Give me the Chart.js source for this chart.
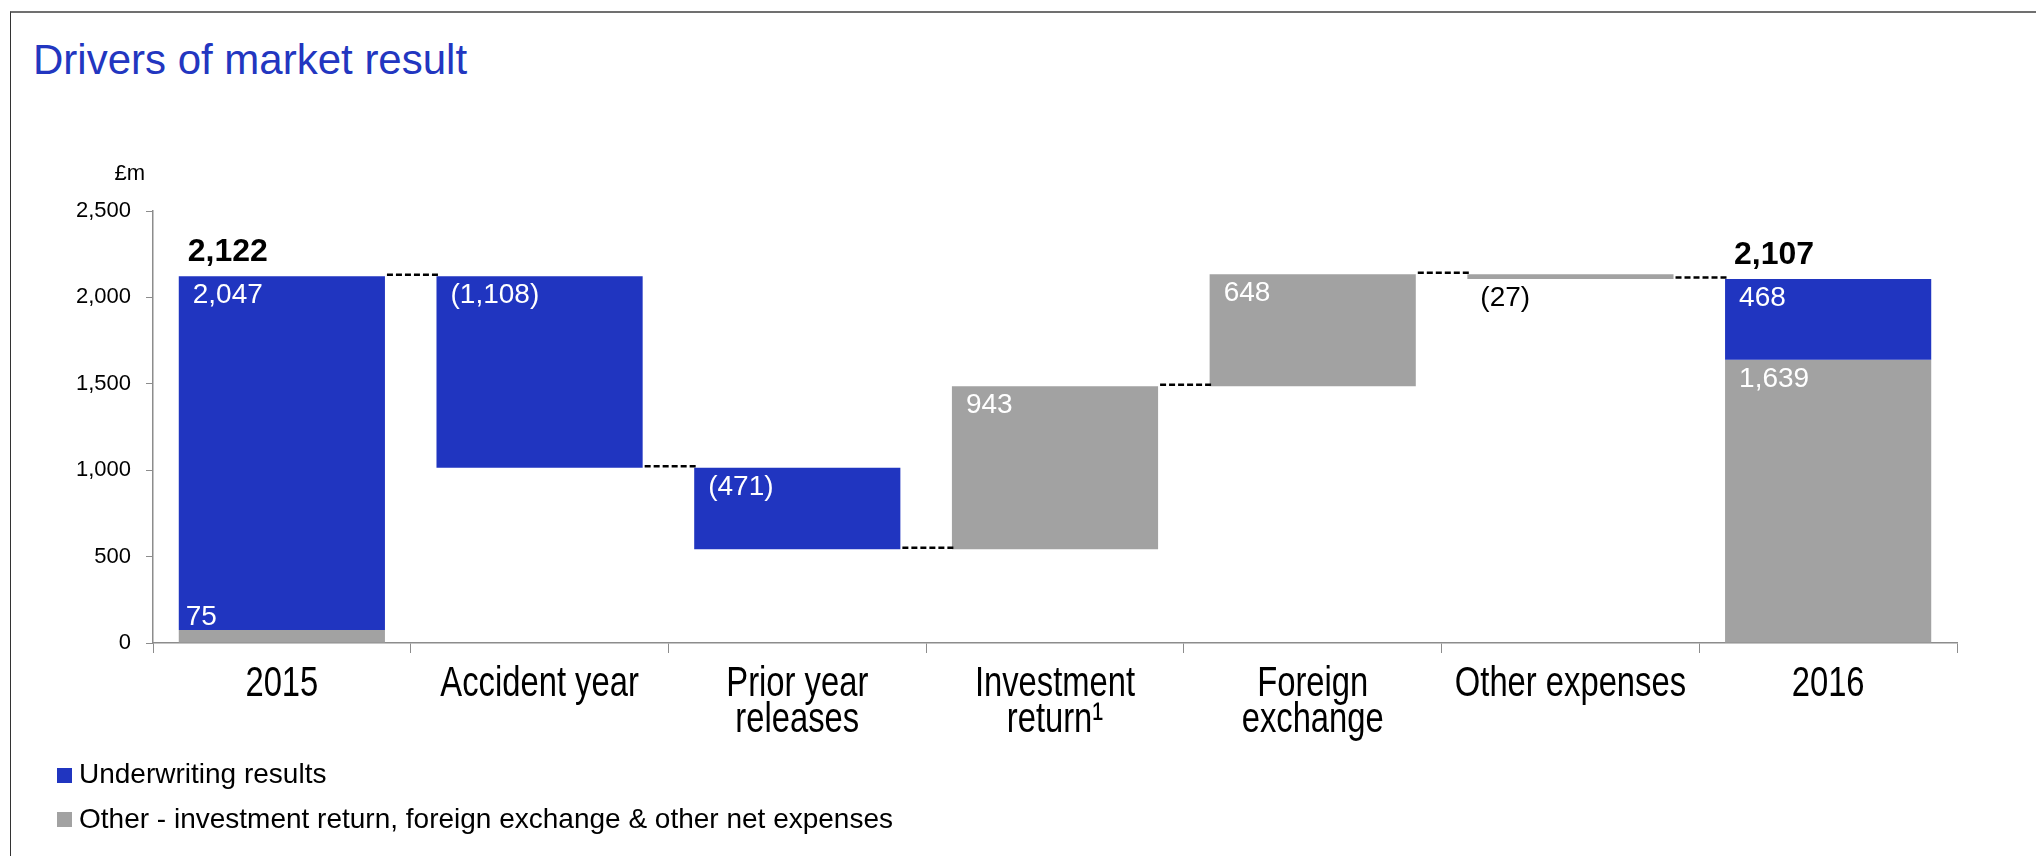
<!DOCTYPE html>
<html>
<head>
<meta charset="utf-8">
<title>Drivers of market result</title>
<script src="https://cdn.jsdelivr.net/npm/chart.js@4.4.1/dist/chart.umd.min.js"></script>
<style>
    html, body { margin: 0; padding: 0; background: #fff; overflow: hidden; }
    body { width: 2036px; height: 856px; position: relative; font-family: "Liberation Sans", Arial, sans-serif; }
    .frame { position: absolute; left: 10px; top: 11px; right: 0; bottom: 0; border-top: 2px solid #707070; border-left: 1px solid #333; }
    h1 { position: absolute; left: 33px; top: 39px; margin: 0; font-size: 42px; line-height: 42px; font-weight: normal; color: #2236c0; white-space: nowrap; }
    .chart-box { position: absolute; left: 0; top: 0; width: 2036px; height: 856px; }
    .legend-row { position: absolute; left: 79px; font-size: 28px; line-height: 28px; white-space: nowrap; color: #000; }
    .legend-row .box { position: absolute; left: -22px; top: 7.5px; width: 15px; height: 15px; }
</style>
</head>
<body>

<div class="frame"></div>
<h1>Drivers of market result</h1>
<div class="chart-box"><canvas id="marketChart"></canvas></div>
<div id="legend"></div>

<script>
// =========================
// DATA (£m)
// =========================

const categories = [
    ["2015"],
    ["Accident year"],
    ["Prior year", "releases"],
    ["Investment", "return¹"],
    ["Foreign", "exchange"],
    ["Other expenses"],
    ["2016"]
];

const seriesNames = [
    "Underwriting results",
    "Other - investment return, foreign exchange & other net expenses"
];

// movement in each column, null where the series has no bar
const underwriting = [2047, -1108, -471, null, null, null, 468];
const otherItems = [75, null, null, 943, 648, -27, 1639];

// first and last columns are totals, the rest are steps
const isTotal = [true, false, false, false, false, false, true];

const yMin = 0;
const yMax = 2500;
const yStep = 500;

const BLUE = "#2035c0";
const GREY = "#a2a2a2";

// =========================
// FLOATING BAR RANGES
// =========================

let running = 0;
const blueRanges = [];
const greyRanges = [];
const levels = [];

categories.forEach(function (c, i) {
    const u = underwriting[i];
    const o = otherItems[i];

    if (isTotal[i]) {
        greyRanges.push([0, o]);
        blueRanges.push([o, o + u]);
        running = o + u;
    } else if (u !== null) {
        blueRanges.push([running, running + u]);
        greyRanges.push(null);
        running += u;
    } else {
        greyRanges.push([running, running + o]);
        blueRanges.push(null);
        running += o;
    }

    levels.push(running);
});

function fmt(v) {
    const s = Math.abs(v).toLocaleString("en-GB");
    return v < 0 ? "(" + s + ")" : s;
}

const FONT = "'Liberation Sans', Arial, sans-serif";

// category labels in the original are set in a narrow face,
// squeeze the x tick labels horizontally when the axis draws them
const LABEL_SQUEEZE = 0.78;

function squeezeLabels(scale) {
    if (scale._squeezed) return;
    scale._squeezed = true;

    const drawLabels = scale.drawLabels.bind(scale);

    // the default clip box is in unscaled pixels, drop it
    scale._computeLabelArea = function () { return undefined; };

    scale.drawLabels = function (area) {
        const items = scale.getLabelItems(area);
        const ctx = scale.ctx;

        items.forEach(it => it.options.translation[0] /= LABEL_SQUEEZE);
        ctx.save();
        ctx.scale(LABEL_SQUEEZE, 1);
        drawLabels(area);
        ctx.restore();
        items.forEach(it => it.options.translation[0] *= LABEL_SQUEEZE);
    };
}

// =========================
// LABELS + CONNECTORS
// =========================

const waterfallLabels = {
    id: "waterfallLabels",
    afterDatasetsDraw(chart) {
        const ctx = chart.ctx;
        const area = chart.chartArea;
        const yScale = chart.scales.y;
        const metas = [chart.getDatasetMeta(0), chart.getDatasetMeta(1)];
        const raw = [underwriting, otherItems];

        ctx.save();

        // unit label
        ctx.fillStyle = "#000";
        ctx.font = "22px " + FONT;
        ctx.textAlign = "right";
        ctx.textBaseline = "alphabetic";
        ctx.fillText("£m", area.left - 8, area.top - 31);

        // column bounds
        const cols = categories.map(function (c, i) {
            const el = metas[0].data[i] && blueRanges[i] ? metas[0].data[i] : metas[1].data[i];
            return { left: el.x - el.width / 2, right: el.x + el.width / 2 };
        });

        // dashed connectors
        ctx.strokeStyle = "#000";
        ctx.lineWidth = 2.5;
        ctx.setLineDash([6, 3]);
        for (let i = 0; i < categories.length - 1; i++) {
            const yy = yScale.getPixelForValue(levels[i]) - 1.5;
            ctx.beginPath();
            ctx.moveTo(cols[i].right + 2, yy);
            ctx.lineTo(cols[i + 1].left + 2, yy);
            ctx.stroke();
        }
        ctx.setLineDash([]);

        // value labels
        ctx.textAlign = "left";
        ctx.font = "28px " + FONT;
        for (let d = 0; d < 2; d++) {
            metas[d].data.forEach(function (el, i) {
                const v = raw[d][i];
                if (v === null || v === undefined) return;
                const top = Math.min(el.y, el.base);
                const bottom = Math.max(el.y, el.base);
                const left = el.x - el.width / 2;

                if (bottom - top >= 40) {
                    ctx.fillStyle = "#fff";
                    ctx.fillText(fmt(v), left + 14, top + 27);
                } else if (isTotal[i]) {
                    ctx.fillStyle = "#fff";
                    ctx.fillText(fmt(v), left + 7, top - 5);
                } else {
                    ctx.fillStyle = "#000";
                    ctx.fillText(fmt(v), left + 13, bottom + 27);
                }
            });
        }

        // totals above the stacked columns
        ctx.font = "bold 32px " + FONT;
        ctx.fillStyle = "#000";
        categories.forEach(function (c, i) {
            if (!isTotal[i]) return;
            const yy = yScale.getPixelForValue(levels[i]);
            ctx.fillText(fmt(levels[i]), cols[i].left + 9, yy - 15);
        });

        ctx.restore();
    }
};

// =========================
// CHART
// =========================

const chart = new Chart(document.getElementById("marketChart"), {
    type: "bar",
    data: {
        labels: categories,
        datasets: [
            {
                label: seriesNames[0],
                data: blueRanges,
                backgroundColor: BLUE,
                borderWidth: 0
            },
            {
                label: seriesNames[1],
                data: greyRanges,
                backgroundColor: GREY,
                borderWidth: 0
            }
        ]
    },
    options: {
        responsive: true,
        maintainAspectRatio: false,
        animation: false,
        events: [],
        layout: {
            padding: { left: 0, right: 79, top: 211, bottom: 83 }
        },
        datasets: {
            bar: { categoryPercentage: 1.0, barPercentage: 0.8 }
        },
        plugins: {
            legend: { display: false },
            tooltip: { enabled: false }
        },
        scales: {
            x: {
                stacked: true,
                afterFit: function (scale) {
                    scale.height = 130;
                    squeezeLabels(scale);
                },
                grid: {
                    offset: true,
                    drawOnChartArea: false,
                    tickLength: 10,
                    color: "#8c8c8c"
                },
                border: { color: "#8c8c8c", width: 1.5 },
                ticks: {
                    color: "#000",
                    padding: 14,
                    maxRotation: 0,
                    autoSkip: false,
                    font: {
                        family: FONT,
                        size: 42,
                        lineHeight: 0.85
                    }
                }
            },
            y: {
                min: yMin,
                max: yMax,
                afterFit: function (scale) { scale.width = 153; },
                grid: {
                    drawOnChartArea: false,
                    tickLength: 7,
                    color: "#8c8c8c"
                },
                border: { color: "#8c8c8c", width: 1.5 },
                ticks: {
                    stepSize: yStep,
                    color: "#000",
                    padding: 15,
                    font: { family: FONT, size: 22 },
                    callback: function (v) { return v.toLocaleString("en-GB"); }
                }
            }
        }
    },
    plugins: [waterfallLabels]
});

// =========================
// LEGEND (from the datasets)
// =========================

const legendBox = document.getElementById("legend");
const legendTops = [760, 804.5];

chart.data.datasets.forEach(function (ds, i) {
    const row = document.createElement("div");
    row.className = "legend-row";
    row.style.top = legendTops[i] + "px";
    row.innerHTML = '<span class="box" style="background:' + ds.backgroundColor + '"></span>' + ds.label;
    legendBox.appendChild(row);
});
</script>
</body>
</html>
